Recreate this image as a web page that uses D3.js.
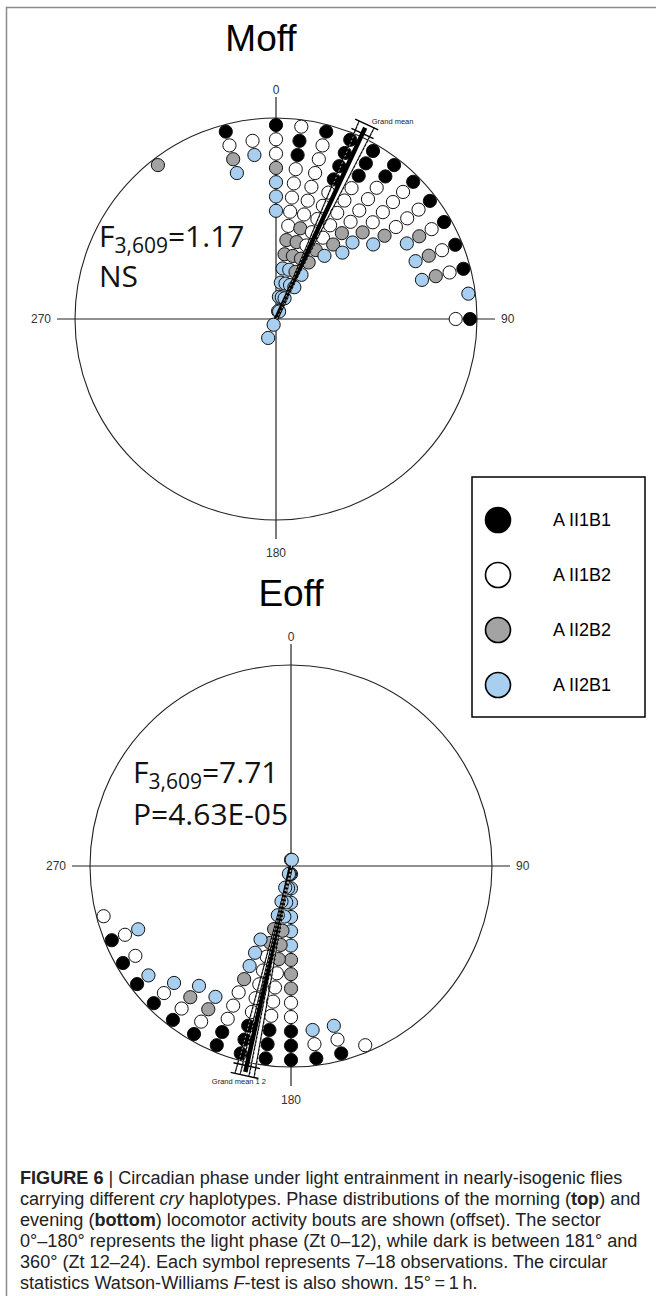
<!DOCTYPE html>
<html>
<head>
<meta charset="utf-8">
<script src="https://cdn.jsdelivr.net/npm/d3@7"></script>
<style>
  body { margin: 0; background: #fff; }
  svg { display: block; }
</style>
</head>
<body>
<svg id="fig"></svg>
<script>
// genotypes (legend order) and the letter used for each in the stacks
const genotypes = ["A II1B1", "A II1B2", "A II2B2", "A II2B1"];
const genotypeCodes = ["K", "W", "G", "B"];

// Moff: bin angle (deg) and stacked symbols from the rim inward ("-" = empty slot)
const moffAngles = [322.5, 345, 352.5, 0, 7.5, 15, 22.5, 30, 37.5, 45, 52.5, 60, 67.5, 75, 82.5, 90];
const moffStacks = [
  "G", "KWGB", "-WB", "KWWGBBB", "WKKWWWWWGGBBB", "KWWWWWWGGGBBBB",
  "KKKKWWWWWGGBBBBB", "KKKWWWWWGGBB", "KKWWWWGGB", "KWWWWGBB", "KWWWGB",
  "KWGB", "KWGB", "KWGB", "B", "KW"
];
const moffMean = 25;

// Eoff
const eoffAngles = [157.5, 165, 172.5, 180, 187.5, 195, 202.5, 210, 217.5, 225, 232.5, 240, 247.5, 255];
const eoffStacks = [
  "W", "KWB", "KWB", "KKKWWGGGBBBBBBB", "KKKWWWWGGGBBBBB", "KKKWWWWWGGBBBB",
  "KKWWWGBBB", "KWGB", "KWGB", "KWB", "KB", "KW", "KWB", "W"
];
const eoffMean = 192.5;

const axisTicks = [0, 90, 180, 270];

const w = 656, h = 1296;
const R = 201;
const symR = 6.6;
const ringStep = 14.3;
const fills = { K: "#000000", W: "#ffffff", G: "#a3a3a3", B: "#a9cff0" };

const svg = d3.select("#fig").attr("width", w).attr("height", h);

// frame
svg.append("rect")
  .attr("x", 6.5).attr("y", 7.5)
  .attr("width", 700).attr("height", 1300)
  .attr("fill", "none").attr("stroke", "#8a8a8a").attr("stroke-width", 1.5);

const angle = d3.scaleLinear().domain([0, 360]).range([0, 2 * Math.PI]);
const ring = d3.scaleLinear().domain([0, 1]).range([R - 7, R - 7 - ringStep]);

function polarChart(opts) {
  const g = svg.append("g").attr("transform", `translate(${opts.cx},${opts.cy})`);

  g.append("circle").attr("r", R)
    .attr("fill", "none").attr("stroke", "#222").attr("stroke-width", 1.1);

  // axes
  g.append("line").attr("x1", -R - 18).attr("x2", R + 18).attr("y1", 0).attr("y2", 0)
    .attr("stroke", "#222").attr("stroke-width", 1.2);
  g.append("line").attr("x1", 0).attr("x2", 0).attr("y1", -R - 21).attr("y2", R + 19)
    .attr("stroke", "#222").attr("stroke-width", 1.2);

  const lab = g.append("g").attr("font-family", "Liberation Sans, Arial, sans-serif")
    .attr("font-size", 12).attr("fill", "#333");
  axisTicks.forEach(t => {
    const p = d3.pointRadial(angle(t), R + 22);
    const txt = lab.append("text").text(t);
    if (t === 0) txt.attr("x", 0).attr("y", p[1] - 2).attr("text-anchor", "middle");
    if (t === 180) txt.attr("x", 0).attr("y", p[1] + 15).attr("text-anchor", "middle");
    if (t === 90) txt.attr("x", p[0] + 2).attr("y", 4).attr("text-anchor", "start");
    if (t === 270) txt.attr("x", p[0] - 2).attr("y", 4).attr("text-anchor", "end");
  });

  // symbols
  const dots = [];
  opts.angles.forEach((a, i) => {
    opts.stacks[i].split("").forEach((c, k) => {
      if (c !== "-") dots.push({ a, k, c });
    });
  });
  g.selectAll("circle.dot").data(dots).enter().append("circle")
    .attr("class", "dot")
    .attr("cx", d => d3.pointRadial(angle(d.a), ring(d.k))[0])
    .attr("cy", d => d3.pointRadial(angle(d.a), ring(d.k))[1])
    .attr("r", symR)
    .attr("fill", d => fills[d.c])
    .attr("stroke", "#111").attr("stroke-width", 1);

  // grand mean with confidence lines
  const m = opts.mean;
  const end = d3.pointRadial(angle(m), R + 10);
  g.append("line").attr("x1", 0).attr("y1", 0).attr("x2", end[0]).attr("y2", end[1])
    .attr("stroke", "#000").attr("stroke-width", 4.5);
  opts.ci.forEach(off => {
    const e = d3.pointRadial(angle(m + off), R + 14);
    g.append("line").attr("x1", 0).attr("y1", 0).attr("x2", e[0]).attr("y2", e[1])
      .attr("stroke", "#000").attr("stroke-width", 1.3);
    g.append("line").attr("x1", 0.6).attr("y1", 0).attr("x2", e[0] + 0.6).attr("y2", e[1])
      .attr("stroke", "#fff").attr("stroke-width", 0.6).attr("stroke-dasharray", "2,2");
  });
  const span = d3.extent(opts.ci);
  [R + 4, R + 14].forEach(rr => {
    const a1 = d3.pointRadial(angle(m + span[0] - 1.2), rr);
    const a2 = d3.pointRadial(angle(m + span[1] + 1.2), rr);
    g.append("line").attr("x1", a1[0]).attr("y1", a1[1]).attr("x2", a2[0]).attr("y2", a2[1])
      .attr("stroke", "#000").attr("stroke-width", 1.5);
  });
  const lp = d3.pointRadial(angle(m), R + 16);
  g.append("text")
    .attr("x", lp[0] + opts.meanDx).attr("y", lp[1] + opts.meanDy)
    .attr("font-family", "Liberation Sans Narrow, Liberation Sans, Arial, sans-serif")
    .attr("font-size", 7.5).attr("fill", "#222")
    .attr("text-anchor", opts.meanAnchor)
    .text(opts.meanLabel);

  // title
  svg.append("text").attr("x", opts.titleX).attr("y", opts.titleY)
    .attr("font-family", "Liberation Sans, Arial, sans-serif")
    .attr("font-size", 37).attr("text-anchor", "middle").attr("fill", "#000")
    .text(opts.title);

  // statistics
  const st = svg.append("g").attr("font-family", "Open Sans, Noto Sans, sans-serif")
    .attr("fill", "#111");
  const t1 = st.append("text").attr("x", opts.statX).attr("y", opts.statY).attr("font-size", 30);
  t1.append("tspan").text("F");
  t1.append("tspan").attr("font-size", 21).attr("dy", 6).text(opts.fDf);
  t1.append("tspan").attr("dy", -6).text("=" + opts.fVal);
  st.append("text").attr("x", opts.statX).attr("y", opts.statY + opts.sigGap).attr("font-size", 30)
    .text(opts.sig);
}

polarChart({
  cx: 276, cy: 319, angles: moffAngles, stacks: moffStacks, mean: moffMean,
  ci: [-2.2, 2.2],
  meanLabel: "Grand mean", meanDx: 4, meanDy: 2, meanAnchor: "start",
  title: "Moff", titleX: 261, titleY: 51,
  statX: 99, statY: 247, sigGap: 40, fDf: "3,609", fVal: "1.17", sig: "NS"
});

polarChart({
  cx: 291, cy: 866, angles: eoffAngles, stacks: eoffStacks, mean: eoffMean,
  ci: [-2.6, -1.2, 1.2, 2.6],
  meanLabel: "Grand mean 1 2", meanDx: 22, meanDy: 6, meanAnchor: "end",
  title: "Eoff", titleX: 291, titleY: 606,
  statX: 133, statY: 783, sigGap: 42, fDf: "3,609", fVal: "7.71", sig: "P=4.63E-05"
});

// legend
const leg = svg.append("g");
leg.append("rect").attr("x", 472).attr("y", 477).attr("width", 173).attr("height", 240)
  .attr("fill", "#fff").attr("stroke", "#000").attr("stroke-width", 1.5);
const legY = d3.scalePoint().domain(genotypes).range([520, 685]);
leg.selectAll("circle").data(genotypes).enter().append("circle")
  .attr("cx", 498).attr("cy", d => legY(d)).attr("r", 12.5)
  .attr("fill", (d, i) => fills[genotypeCodes[i]])
  .attr("stroke", "#000").attr("stroke-width", 1.6);
leg.selectAll("text").data(genotypes).enter().append("text")
  .attr("x", 553).attr("y", d => legY(d) + 6)
  .attr("font-family", "Liberation Sans, Arial, sans-serif").attr("font-size", 18)
  .attr("fill", "#000")
  .text(d => d);

// caption: rendered at a tall size, then squeezed horizontally (condensed face)
const captionLines = [
  [["FIGURE 6", "b"], [" | ", "n"], ["Circadian phase under light entrainment in nearly-isogenic flies", "n"]],
  [["carrying different ", "n"], ["cry", "i"], [" haplotypes. Phase distributions of the morning (", "n"], ["top", "b"], [") and", "n"]],
  [["evening (", "n"], ["bottom", "b"], [") locomotor activity bouts are shown (offset). The sector", "n"]],
  [["0°–180° represents the light phase (Zt 0–12), while dark is between 181° and", "n"]],
  [["360° (Zt 12–24). Each symbol represents 7–18 observations. The circular", "n"]],
  [["statistics Watson-Williams ", "n"], ["F", "i"], ["-test is also shown. 15°\u2009=\u20091\u2009h.", "n"]]
];
const capY = d3.scaleLinear().domain([0, 5]).range([1184, 1289]);
const cap = svg.append("g");
const capTexts = captionLines.map((line, i) => {
  const t = cap.append("text").attr("x", 0).attr("y", capY(i))
    .attr("font-family", "Liberation Sans, Arial, sans-serif")
    .attr("font-size", 19)
    .attr("fill", "#222");
  line.forEach(([s, f]) => {
    t.append("tspan").text(s)
      .attr("font-weight", f === "b" ? "bold" : null)
      .attr("font-style", f === "i" ? "italic" : null);
  });
  return t;
});
const widest = d3.max(capTexts, t => t.node().getBBox().width);
const squeeze = 621 / widest;
cap.attr("transform", `translate(20,0) scale(${squeeze},1)`);
</script>
</body>
</html>
